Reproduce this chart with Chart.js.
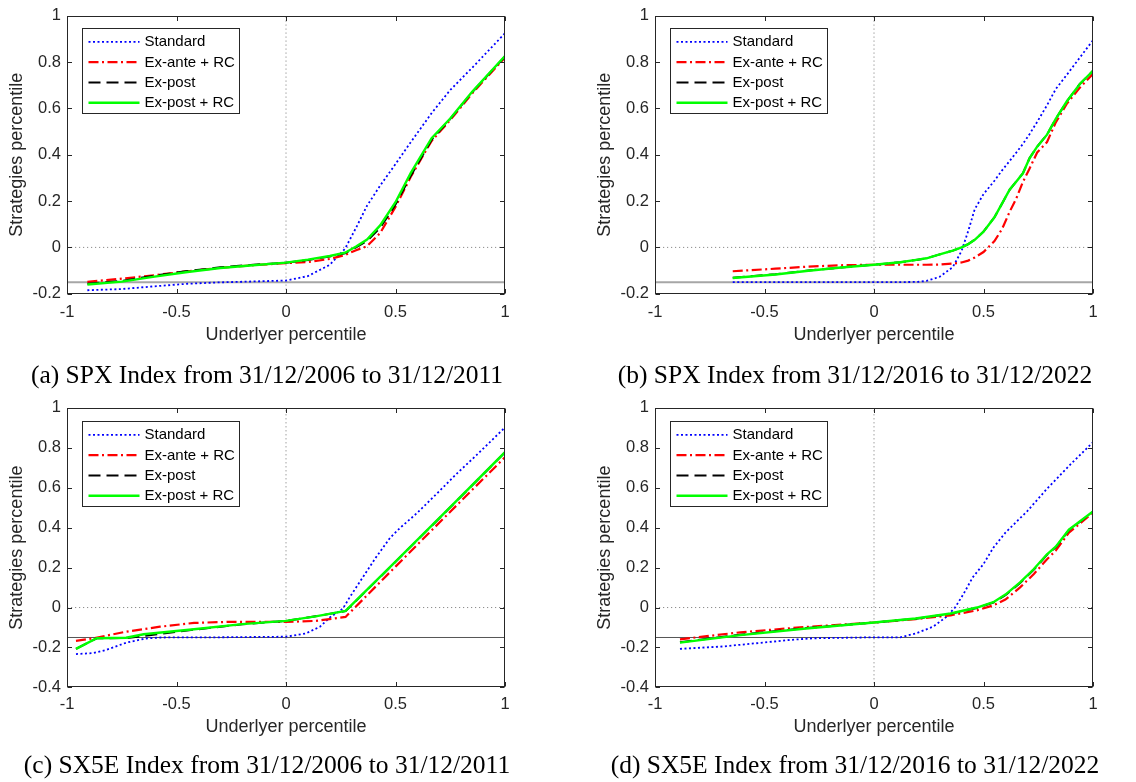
<!DOCTYPE html>
<html>
<head>
<meta charset="utf-8">
<script src="https://cdn.jsdelivr.net/npm/chart.js@4.4.0/dist/chart.umd.min.js"></script>
<style>
  html, body { margin: 0; padding: 0; background: #fff; overflow: hidden; }
  body { width: 1136px; height: 782px; position: relative; }
  canvas { position: absolute; }
</style>
</head>
<body>
<canvas id="pa" width="548" height="392" style="left:0;top:0"></canvas>
<canvas id="pb" width="548" height="392" style="left:588px;top:0"></canvas>
<canvas id="pc" width="548" height="390" style="left:0;top:392px"></canvas>
<canvas id="pd" width="548" height="390" style="left:588px;top:392px"></canvas>
<script>
// ---- data ----
const seriesNames = ['Standard', 'Ex-ante + RC', 'Ex-post', 'Ex-post + RC'];
const captions = [
    '(a) SPX Index from 31/12/2006 to 31/12/2011',
    '(b) SPX Index from 31/12/2016 to 31/12/2022',
    '(c) SX5E Index from 31/12/2006 to 31/12/2011',
    '(d) SX5E Index from 31/12/2016 to 31/12/2022'
];

const xTicks = [-1, -0.5, 0, 0.5, 1];
const xTickLabels = ['-1', '-0.5', '0', '0.5', '1'];
const yTicksTop = [-0.2, 0, 0.2, 0.4, 0.6, 0.8, 1];
const yTickLabelsTop = ['-0.2', '0', '0.2', '0.4', '0.6', '0.8', '1'];
const yTicksBottom = [-0.4, -0.2, 0, 0.2, 0.4, 0.6, 0.8, 1];
const yTickLabelsBottom = ['-0.4', '-0.2', '0', '0.2', '0.4', '0.6', '0.8', '1'];

const floorX = [-1, 1];
const floorY = [-0.15, -0.15];

// (a) SPX 2006-2011
const aX = [-0.907, -0.75, -0.6, -0.45, -0.3, -0.15, 0, 0.1, 0.2, 0.27, 0.32, 0.37, 0.43, 0.5, 0.57, 0.665, 0.75, 0.85, 1];
const aStd = [-0.185, -0.180, -0.168, -0.157, -0.151, -0.147, -0.143, -0.124, -0.075, -0.005, 0.085, 0.18, 0.267, 0.36, 0.455, 0.58, 0.68, 0.776, 0.925];
const aAnte = [-0.149, -0.135, -0.120, -0.103, -0.088, -0.077, -0.068, -0.063, -0.050, -0.033, -0.012, 0.005, 0.062, 0.175, 0.305, 0.46, 0.55, 0.665, 0.82];
const aPost = [-0.157, -0.145, -0.122, -0.102, -0.086, -0.075, -0.066, -0.055, -0.039, -0.025, 0.0, 0.028, 0.085, 0.185, 0.31, 0.465, 0.555, 0.67, 0.825];
const aPostRC = [-0.160, -0.148, -0.126, -0.106, -0.089, -0.077, -0.066, -0.053, -0.037, -0.023, 0.004, 0.034, 0.095, 0.195, 0.322, 0.472, 0.557, 0.672, 0.827];

// (b) SPX 2016-2022
const bX = [-0.645, -0.45, -0.3, -0.15, 0, 0.12, 0.2, 0.24, 0.3, 0.36, 0.4, 0.43, 0.46, 0.5, 0.55, 0.585, 0.62, 0.65, 0.68, 0.71, 0.745, 0.79, 0.83, 0.88, 0.94, 1];
const bStd = [-0.15, -0.15, -0.15, -0.15, -0.15, -0.15, -0.149, -0.145, -0.127, -0.085, -0.015, 0.07, 0.165, 0.23, 0.288, 0.333, 0.374, 0.41, 0.447, 0.489, 0.542, 0.614, 0.684, 0.745, 0.82, 0.895];
const bAnte = [-0.103, -0.092, -0.083, -0.077, -0.075, -0.075, -0.075, -0.075, -0.074, -0.07, -0.065, -0.057, -0.044, -0.02, 0.027, 0.08, 0.155, 0.212, 0.283, 0.34, 0.41, 0.455, 0.54, 0.62, 0.69, 0.75];
const bPost = [-0.131, -0.116, -0.1, -0.087, -0.075, -0.064, -0.053, -0.047, -0.03, -0.014, 0.0, 0.014, 0.033, 0.068, 0.13, 0.19, 0.25, 0.285, 0.32, 0.385, 0.435, 0.487, 0.555, 0.63, 0.706, 0.763];
const bPostRC = [-0.132, -0.117, -0.101, -0.087, -0.075, -0.064, -0.053, -0.047, -0.03, -0.014, 0.0, 0.014, 0.033, 0.068, 0.13, 0.19, 0.25, 0.285, 0.32, 0.385, 0.435, 0.487, 0.555, 0.63, 0.706, 0.763];

// (c) SX5E 2006-2011
const cStdX = [-0.959, -0.88, -0.82, -0.73, -0.64, -0.57, -0.3, 0, 0.09, 0.155, 0.2, 0.26, 0.29, 0.35, 0.41, 0.475, 0.52, 0.6, 0.69, 0.78, 0.86, 1];
const cStdY = [-0.233, -0.228, -0.212, -0.176, -0.155, -0.15, -0.149, -0.146, -0.13, -0.096, -0.05, -0.005, 0.05, 0.15, 0.25, 0.349, 0.398, 0.475, 0.572, 0.671, 0.753, 0.902];
const cAnteX = [-0.959, -0.88, -0.73, -0.575, -0.42, -0.27, 0, 0.135, 0.272, 0.5, 0.75, 1];
const cAnteY = [-0.167, -0.154, -0.121, -0.096, -0.077, -0.072, -0.072, -0.067, -0.047, 0.205, 0.48, 0.753];
const cPostX = [-0.959, -0.864, -0.73, -0.65, -0.42, -0.2, 0, 0.135, 0.272, 0.5, 0.75, 1];
const cPostY = [-0.207, -0.154, -0.153, -0.142, -0.111, -0.084, -0.067, -0.044, -0.018, 0.229, 0.502, 0.777];
const cPostRCY = [-0.207, -0.154, -0.151, -0.134, -0.109, -0.083, -0.067, -0.044, -0.017, 0.23, 0.503, 0.778];

// (d) SX5E 2016-2022
const dStdX = [-0.886, -0.69, -0.54, -0.38, -0.28, 0, 0.12, 0.19, 0.27, 0.33, 0.37, 0.41, 0.45, 0.5, 0.545, 0.6, 0.7, 0.79, 0.83, 0.9, 1];
const dStdY = [-0.207, -0.195, -0.179, -0.162, -0.154, -0.149, -0.149, -0.13, -0.096, -0.047, 0.0, 0.07, 0.15, 0.218, 0.3, 0.375, 0.483, 0.595, 0.64, 0.72, 0.828];
const dX = [-0.886, -0.61, -0.31, 0, 0.19, 0.35, 0.47, 0.545, 0.6, 0.667, 0.73, 0.79, 0.83, 0.89, 1];
const dAnte = [-0.159, -0.124, -0.097, -0.075, -0.058, -0.039, -0.014, 0.011, 0.04, 0.101, 0.168, 0.242, 0.285, 0.375, 0.475];
const dPost = [-0.174, -0.136, -0.103, -0.075, -0.056, -0.031, -0.002, 0.025, 0.062, 0.123, 0.19, 0.264, 0.302, 0.388, 0.479];
const dPostRC = [-0.176, -0.138, -0.105, -0.075, -0.055, -0.03, 0.0, 0.027, 0.065, 0.126, 0.193, 0.267, 0.305, 0.39, 0.481];

// ---- styling ----
Chart.defaults.font.family = '"Liberation Sans", Arial, Helvetica, sans-serif';
const axisColor = '#262626';

const lineStyles = [
    { color: '#0000ff', width: 1.8, dash: [2, 2.5], order: 4 },
    { color: '#ff0000', width: 2.2, dash: [10, 3.5, 2, 3.5], order: 3 },
    { color: '#000000', width: 2, dash: [12, 6], order: 2 },
    { color: '#00ff00', width: 2.4, dash: [], order: 1 }
];

const rowTop = { padTop: 12.5, scaleH: 52, tickPad: 8.8, capPad: 15.7, legendDy: 12.5 };
const rowBottom = { padTop: 13, scaleH: 50.8, tickPad: 7.1, capPad: 13.2, legendDy: 13.3 };

function pts(xs, ys) {
    return xs.map((x, i) => ({ x: x, y: ys[i] }));
}

const axesBox = {
    id: 'axesBox',
    afterDatasetsDraw(chart) {
        const { ctx, chartArea: a, scales: { x, y } } = chart;
        const L = Math.round(a.left) + 0.5, R = Math.round(a.right) - 0.5;
        const T = Math.round(a.top) + 0.5, B = Math.round(a.bottom) - 0.5;
        ctx.save();
        ctx.strokeStyle = axisColor;
        ctx.lineWidth = 1;
        ctx.setLineDash([]);
        ctx.strokeRect(L, T, R - L, B - T);
        ctx.beginPath();
        x.ticks.forEach(t => {
            const px = Math.round(x.getPixelForValue(t.value)) + 0.5;
            ctx.moveTo(px, B); ctx.lineTo(px, B - 4.5);
            ctx.moveTo(px, T); ctx.lineTo(px, T + 4.5);
        });
        y.ticks.forEach(t => {
            const py = Math.round(y.getPixelForValue(t.value)) + 0.5;
            ctx.moveTo(L, py); ctx.lineTo(L + 4.5, py);
            ctx.moveTo(R, py); ctx.lineTo(R - 4.5, py);
        });
        ctx.stroke();
        ctx.restore();
    }
};

const boxLegend = {
    id: 'boxLegend',
    afterDraw(chart, args, opts) {
        const { ctx, chartArea: a } = chart;
        const items = chart.data.datasets.filter(d => d.inLegend);
        const bx = Math.round(a.left + 14.5) + 0.5, by = Math.round(a.top + opts.dy) + 0.5;
        const bw = 157, bh = 85;
        ctx.save();
        ctx.fillStyle = '#fff';
        ctx.fillRect(bx, by, bw, bh);
        ctx.strokeStyle = axisColor;
        ctx.lineWidth = 1;
        ctx.strokeRect(bx, by, bw, bh);
        ctx.font = '15px "Liberation Sans", Arial, sans-serif';
        ctx.textBaseline = 'middle';
        items.forEach((d, i) => {
            const cy = by + 13.3 + i * 20.3;
            ctx.beginPath();
            ctx.strokeStyle = d.borderColor;
            ctx.lineWidth = d.borderWidth;
            ctx.setLineDash(d.borderDash);
            ctx.moveTo(bx + 6, cy);
            ctx.lineTo(bx + 57, cy);
            ctx.stroke();
            ctx.setLineDash([]);
            ctx.fillStyle = '#000';
            ctx.fillText(d.label, bx + 62, cy + 0.5);
        });
        ctx.restore();
    }
};

function makePanel(id, caption, series, yTicks, yLabels, row, floorColor, floorWidth) {
    const yMin = yTicks[0], yMax = yTicks[yTicks.length - 1];
    const datasets = series.map((s, i) => ({
        label: seriesNames[i],
        data: pts(s[0], s[1]),
        borderColor: lineStyles[i].color,
        borderWidth: lineStyles[i].width,
        borderDash: lineStyles[i].dash,
        order: lineStyles[i].order,
        inLegend: true,
        pointRadius: 0,
        tension: 0,
        fill: false
    }));
    const ref = (xs, ys, color, width, dash) => ({
        data: pts(xs, ys), borderColor: color, borderWidth: width, borderDash: dash,
        pointRadius: 0, order: 9, fill: false
    });
    datasets.push(ref(floorX, floorY, floorColor, floorWidth, []));
    datasets.push(ref([xTicks[0], xTicks[xTicks.length - 1]], [0, 0], '#8c8c8c', 1, [1.2, 2.8]));
    datasets.push(ref([0, 0], [yMin, yMax], '#8c8c8c', 1, [1.2, 2.8]));

    new Chart(document.getElementById(id), {
        type: 'line',
        data: { datasets: datasets },
        options: {
            responsive: false,
            animation: false,
            events: [],
            layout: { padding: { top: row.padTop, right: 14, left: 0, bottom: 0 } },
            scales: {
                x: {
                    type: 'linear', min: -1, max: 1,
                    grid: { display: false, drawTicks: false },
                    border: { display: false },
                    afterBuildTicks: s => { s.ticks = xTicks.map(v => ({ value: v })); },
                    afterFit: s => { s.height = row.scaleH; },
                    ticks: {
                        callback: (v, i) => xTickLabels[i],
                        padding: row.tickPad, maxRotation: 0, autoSkip: false,
                        color: axisColor, font: { size: 16.5 }
                    },
                    title: {
                        display: true, text: 'Underlyer percentile', color: axisColor,
                        font: { size: 18 }, padding: { top: 0, bottom: 0 }
                    }
                },
                y: {
                    type: 'linear', min: yMin, max: yMax,
                    grid: { display: false, drawTicks: false },
                    border: { display: false },
                    afterBuildTicks: s => { s.ticks = yTicks.map(v => ({ value: v })); },
                    afterFit: s => { s.width = 67; },
                    ticks: {
                        callback: (v, i) => yLabels[i],
                        padding: 6, autoSkip: false,
                        color: axisColor, font: { size: 16.5 }
                    },
                    title: {
                        display: true, text: 'Strategies percentile', color: axisColor,
                        font: { size: 18 }, padding: { top: 6, bottom: 0 }
                    }
                },
                // empty right-hand spacer so the caption centres like the original
                yr: {
                    type: 'linear', position: 'right', min: yMin, max: yMax,
                    grid: { display: false, drawTicks: false },
                    border: { display: false },
                    ticks: { display: false },
                    afterFit: s => { s.width = 29; }
                }
            },
            plugins: {
                legend: { display: false },
                tooltip: { enabled: false },
                title: {
                    display: true, position: 'bottom', text: caption, color: '#000',
                    font: { family: '"Liberation Serif", "Times New Roman", serif', size: 25.5, weight: 'normal' },
                    padding: { top: row.capPad, bottom: 0 }
                },
                boxLegend: { dy: row.legendDy }
            }
        },
        plugins: [axesBox, boxLegend]
    });
}

makePanel('pa', captions[0], [[aX, aStd], [aX, aAnte], [aX, aPost], [aX, aPostRC]],
    yTicksTop, yTickLabelsTop, rowTop, '#a6a6a6', 2);
makePanel('pb', captions[1], [[bX, bStd], [bX, bAnte], [bX, bPost], [bX, bPostRC]],
    yTicksTop, yTickLabelsTop, rowTop, '#a6a6a6', 2);
makePanel('pc', captions[2], [[cStdX, cStdY], [cAnteX, cAnteY], [cPostX, cPostY], [cPostX, cPostRCY]],
    yTicksBottom, yTickLabelsBottom, rowBottom, '#555555', 1);
makePanel('pd', captions[3], [[dStdX, dStdY], [dX, dAnte], [dX, dPost], [dX, dPostRC]],
    yTicksBottom, yTickLabelsBottom, rowBottom, '#555555', 1);
</script>
</body>
</html>
